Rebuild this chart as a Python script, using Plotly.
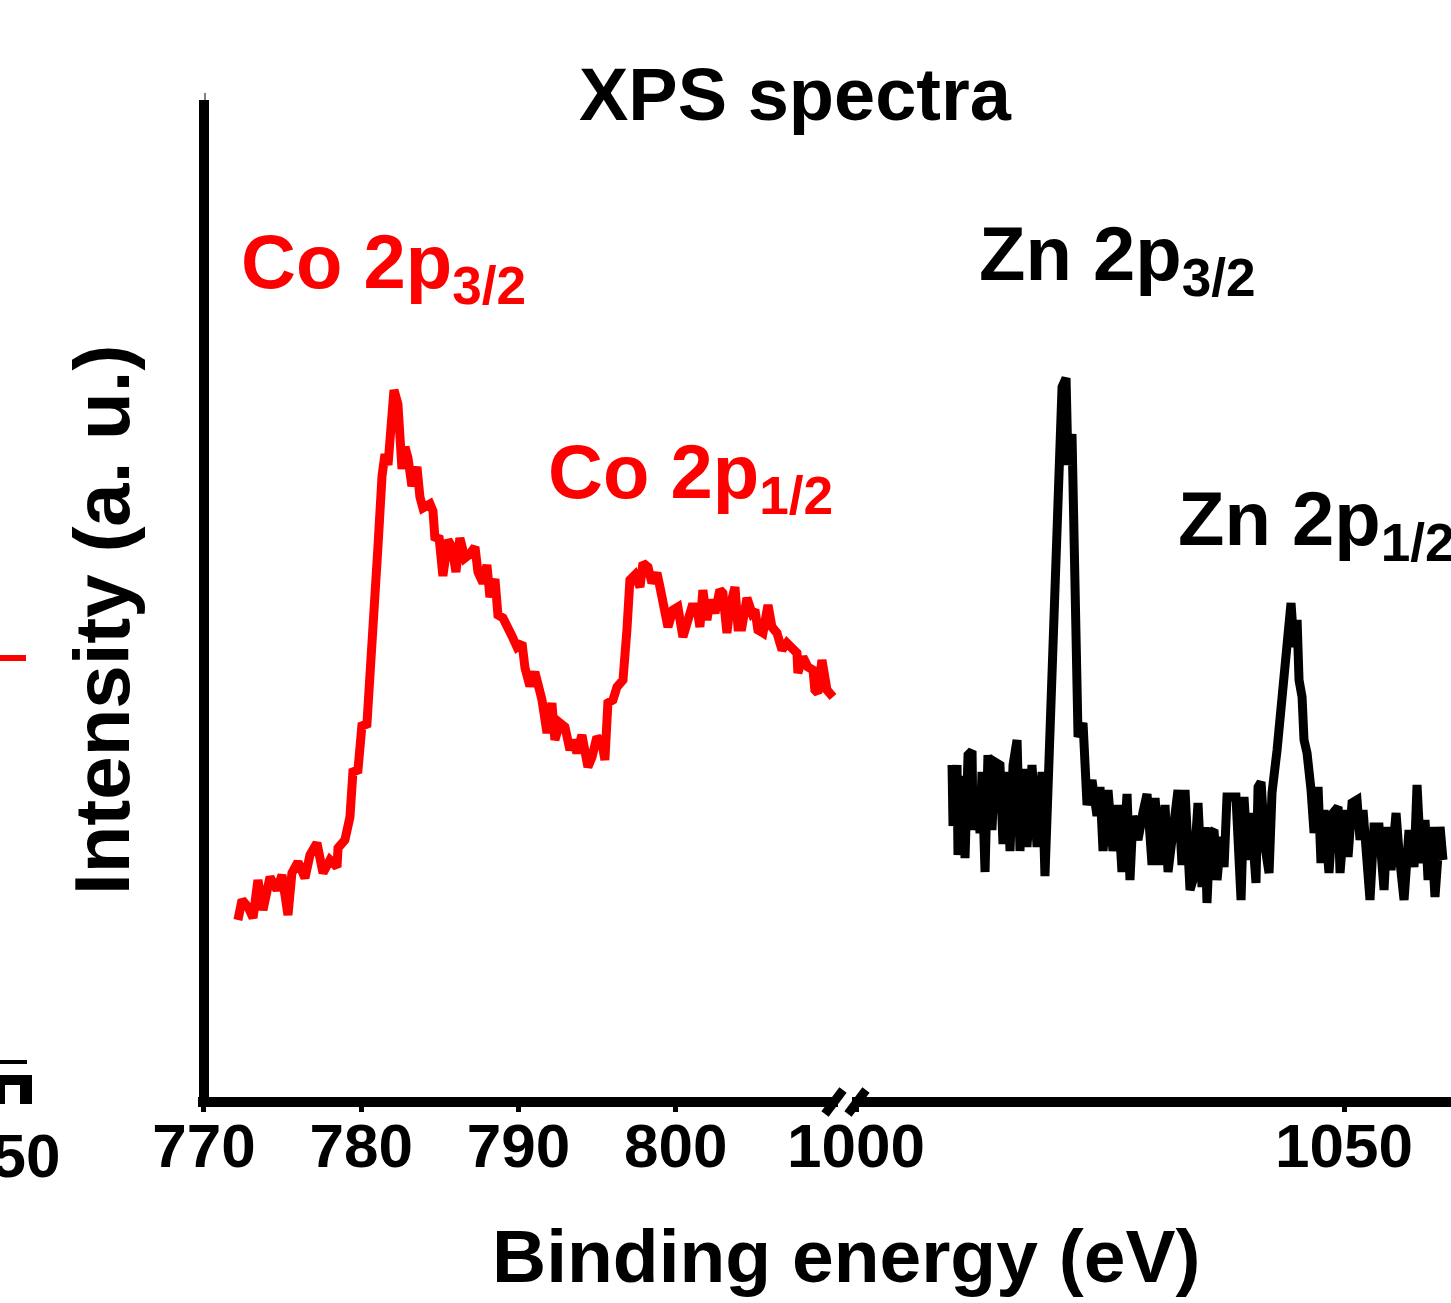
import plotly.graph_objects as go

# ---------------- data ----------------
# Co 2p region (red), binding energy (eV) and intensity (a.u.)
co_be = [772.16, 772.42, 772.80, 773.12, 773.43, 773.75, 774.20, 774.64, 774.96, 775.34,
         775.59, 775.98, 776.42, 776.74, 777.18, 777.57, 778.01, 778.46, 778.52, 778.96,
         779.28,
         779.47, 779.79, 780.04, 780.36, 780.55, 780.68, 780.87, 781.06, 781.32, 781.51,
         781.70, 781.95, 782.08, 782.33, 782.59, 782.78, 782.97, 783.22, 783.54, 783.73,
         783.92, 784.37, 784.56, 784.69, 784.94, 785.19, 785.51, 785.77, 786.02, 786.27,
         786.59, 786.91, 787.23, 787.42, 787.74, 787.99, 788.18, 788.50, 788.69, 789.01,
         789.33, 789.58, 789.90, 790.22, 790.41, 790.72, 791.04,
         791.49, 791.81, 792.12, 792.31, 792.63, 792.95, 793.27, 793.46, 793.71, 794.03,
         794.22, 794.41, 794.67, 794.98, 795.30, 795.49, 795.68, 796.00, 796.26, 796.64,
         796.89, 797.08, 797.40, 797.72, 797.91, 798.23, 798.48, 798.80, 798.99, 799.18,
         799.50, 799.82, 800.13, 800.45, 800.77, 801.02, 801.34, 801.53, 801.72, 801.98,
         802.17, 802.49, 802.80, 802.99, 803.25, 803.44, 803.76, 803.95, 804.20, 804.52,
         804.84, 805.03, 805.22, 805.54, 805.86, 806.11, 806.43, 806.75, 807.06, 807.38,
         807.70, 807.76, 808.08, 808.40, 808.72, 808.84, 809.03, 809.29, 809.61, 809.99]
co_int = [177, 197, 190, 179, 217, 187, 220, 207, 222, 182,
          224, 235, 219, 242, 254, 224, 237, 230, 249, 257,
          280,
          325, 327, 371, 373, 414, 457, 479, 550, 621, 643,
          632, 678, 707, 693, 628, 650, 639, 611, 630, 600,
          589, 593, 586, 557, 561, 521, 557, 550, 525, 559,
          539, 543, 550, 525, 514, 532, 500, 518, 482, 479,
          471, 461, 450, 454, 429, 411, 425,
          397, 364, 394, 357, 374, 370, 347, 357, 344, 362,
          344, 330, 340, 360, 354, 337, 394, 397, 410, 417,
          467, 517, 522, 510, 534, 530, 514, 524, 510, 494,
          470, 487, 490, 460, 474, 490, 490, 470, 507, 477,
          497, 484, 507, 504, 464, 490, 510, 470, 470, 499,
          484, 487, 467, 464, 492, 470, 464, 447, 454, 450,
          444, 424, 440, 430, 427, 407, 404, 437, 407, 400]

# Zn 2p region (black)
zn_be = [1009.84, 1009.94, 1010.35, 1010.45, 1010.86, 1011.17, 1011.48, 1011.89, 1011.99, 1012.40,
         1012.71, 1012.91, 1013.22, 1013.52, 1013.93, 1014.24, 1014.75, 1015.06, 1015.47, 1015.78,
         1016.09, 1016.50, 1016.80, 1017.11, 1017.52, 1018.03, 1018.55, 1019.06, 1019.36, 1019.67,
         1020.08, 1020.39, 1020.70, 1021.11, 1021.52, 1021.72, 1022.13, 1022.44, 1022.75, 1023.26,
         1023.67, 1024.18, 1024.69, 1025.00, 1025.31, 1025.82, 1026.33, 1026.85, 1027.25, 1027.77,
         1028.07, 1028.38, 1028.89, 1029.41, 1029.82, 1030.33, 1030.64, 1031.15, 1031.66, 1031.97,
         1032.48, 1032.99, 1033.40, 1033.71, 1034.22,
         1034.53, 1035.04, 1035.45, 1035.76, 1035.96, 1036.27, 1036.68, 1036.99, 1037.40, 1037.71,
         1038.01, 1038.63, 1038.93, 1039.45, 1039.75, 1040.16, 1040.47, 1040.98, 1041.19, 1041.50,
         1041.91, 1042.32, 1042.62, 1043.14, 1043.34, 1043.85, 1044.16, 1044.57, 1044.88, 1045.19,
         1045.39, 1045.70, 1045.90, 1046.21, 1046.62, 1046.93, 1047.34, 1047.64, 1047.95, 1048.46,
         1048.87, 1049.39, 1049.59, 1050.10, 1050.41, 1050.82, 1051.33, 1051.64, 1051.95, 1052.36,
         1052.66, 1053.07, 1053.59, 1054.10, 1054.41, 1054.82, 1055.33, 1055.64, 1056.15, 1056.66,
         1057.17, 1057.48, 1057.89, 1058.30, 1058.61, 1058.92, 1059.32, 1059.84, 1060.14]
zn_int = [332, 271, 332, 242, 321, 239, 342, 346, 267, 296,
          264, 325, 225, 342, 267, 335, 332, 253, 325, 246,
          332, 357, 246, 328, 250, 332, 250, 325, 221, 310,
          424, 464, 596, 710, 719, 632, 663, 507, 360, 374,
          292, 317, 281, 310, 246, 307, 246, 292, 225, 303,
          217, 281, 257, 285, 303, 232, 299, 232, 292, 225,
          267, 307, 232, 307, 207,
          217, 294, 210, 270, 194, 264, 267, 217, 260, 230,
          300, 300, 300, 197, 300, 237, 284, 214, 310, 315,
          250, 224, 304, 347, 370, 417, 444, 494, 450, 477,
          417, 400, 357, 344, 307, 264, 310, 234, 287, 224,
          284, 290, 224, 287, 240, 294, 297, 257, 287, 217,
          197, 270, 270, 207, 270, 227, 284, 244, 197, 267,
          230, 312, 234, 277, 217, 270, 200, 270, 237]

left_ticks = [770, 780, 790, 800]
right_ticks = [1000, 1050]
left_range = [769.62, 810.31]
right_range = [999.59, 1060.96]
y_range = [0, 997]

title_text = "XPS spectra"
x_title = "Binding energy (eV)"
y_title = "Intensity (a. u.)"
co_labels = ["Co 2p<sub>3/2</sub>", "Co 2p<sub>1/2</sub>"]
zn_labels = ["Zn 2p<sub>3/2</sub>", "Zn 2p<sub>1/2</sub>"]

# ---------------- layout helpers ----------------
W, H = 1451, 1303
L, R, T, B = 198, 0, 100, 206
PW, PH = W - L - R, H - T - B


def xp(px):
    return (px - L) / PW


def yp(py):
    return (H - B - py) / PH


FONT = "Liberation Sans"
RED = "#ff0000"
BLACK = "#000000"

fig = go.Figure()
fig.add_trace(go.Scatter(x=co_be, y=co_int, mode="lines",
                         line=dict(color=RED, width=9),
                         xaxis="x", yaxis="y", showlegend=False, hoverinfo="skip"))
fig.add_trace(go.Scatter(x=zn_be, y=zn_int, mode="lines",
                         line=dict(color=BLACK, width=9),
                         xaxis="x2", yaxis="y", showlegend=False, hoverinfo="skip"))

tickfont = dict(family=FONT, size=62, color=BLACK, weight="bold")
xcommon = dict(ticks="outside", ticklen=5, tickwidth=5, tickcolor=BLACK,
               showline=True, linewidth=10, linecolor=BLACK,
               showgrid=False, zeroline=False, tickfont=tickfont,
               ticklabelstandoff=-19,
               anchor="y", automargin=False, fixedrange=True)

fig.update_layout(
    template="none",
    width=W, height=H,
    margin=dict(l=L, r=R, t=T, b=B, pad=0),
    paper_bgcolor="white", plot_bgcolor="white",
    showlegend=False,
    xaxis=dict(domain=[0, xp(838)], range=left_range, tickvals=left_ticks, **xcommon),
    xaxis2=dict(domain=[xp(852), 1], range=right_range, tickvals=right_ticks, **xcommon),
    yaxis=dict(range=y_range, anchor="free", position=xp(204),
               showline=True, linewidth=10, linecolor=BLACK,
               showticklabels=False, ticks="", showgrid=False, zeroline=False,
               automargin=False, fixedrange=True),
)

ann = []


def add_text(text, x, y, size, color=BLACK, xanchor="center", yanchor="middle", angle=0):
    ann.append(dict(text=text, x=x, y=y, xref="paper", yref="paper",
                    xanchor=xanchor, yanchor=yanchor, showarrow=False, textangle=angle,
                    font=dict(family=FONT, size=size, color=color, weight="bold")))


add_text(title_text, xp(795), yp(95), 74)
add_text(co_labels[0], xp(239), yp(267), 76, RED, xanchor="left")
add_text(co_labels[1], xp(546), yp(477), 76, RED, xanchor="left")
add_text(zn_labels[0], xp(977), yp(259), 76, BLACK, xanchor="left")
add_text(zn_labels[1], xp(1176), yp(524), 76, BLACK, xanchor="left")
add_text(y_title, xp(102), yp(620), 78, angle=-90)
add_text(x_title, xp(846), yp(1256), 75)
# remnant of a neighbouring panel at the left edge
add_text("750", xp(62), yp(1155), 62, xanchor="right")
fig.update_layout(annotations=ann)

shapes = []


def seg(x0, y0, x1, y1, w, color=BLACK):
    shapes.append(dict(type="line", xref="paper", yref="paper",
                       x0=xp(x0), y0=yp(y0), x1=xp(x1), y1=yp(y1),
                       line=dict(color=color, width=w), layer="above"))


def box(x0, y0, x1, y1, color=BLACK):
    shapes.append(dict(type="rect", xref="paper", yref="paper",
                       x0=xp(x0), y0=yp(y0), x1=xp(x1), y1=yp(y1),
                       line=dict(width=0), fillcolor=color, layer="above"))


# axis break marks
seg(825, 1114, 843, 1090, 9)
seg(848, 1114, 866, 1090, 9)
# thin tick above the y axis
seg(205, 93, 205, 100, 1)
# neighbouring panel remnants
seg(0, 658, 26, 658, 6, RED)
seg(0, 1062, 27, 1062, 4)
box(0, 1075, 32, 1085)
box(20, 1075, 32, 1104)
box(0, 1085, 5, 1104)
fig.update_layout(shapes=shapes)

fig.write_html(
    "out.html",
    config={"displayModeBar": False, "staticPlot": True},
    post_script="document.body.style.margin='0';document.body.style.overflow='hidden';",
)
